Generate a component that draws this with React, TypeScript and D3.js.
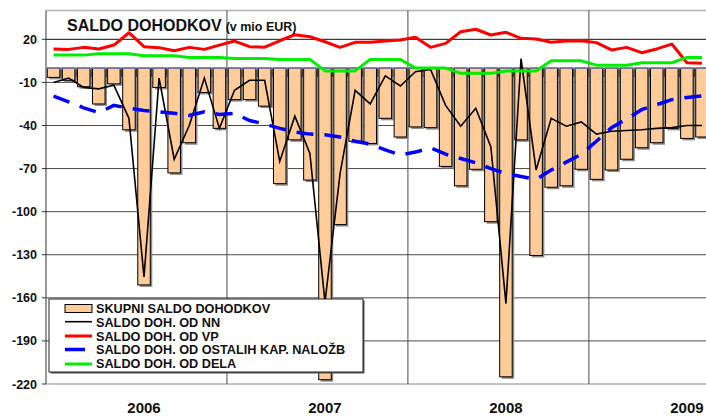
import React from "react";
import * as d3 from "d3";

const years = ["2006", "2007", "2008", "2009"];
const months = years.flatMap((y) =>
  ["01", "02", "03", "04", "05", "06", "07", "08", "09", "10", "11", "12"].map((m) => `${y}-${m}`)
).slice(0, 44);

const skupni = [
  -6.5, -8.5, -13, -25, -11, -43, -151, -13.5, -73, -52, -17, -42,
  -22, -22, -26.5, -80.5, -50, -78, -217, -109, -51, -52.5, -35, -48,
  -41, -41.5, -68.5, -82, -70.5, -107, -215, -50, -130.5, -83, -82, -70.5,
  -77.5, -71, -63.5, -55.5, -52, -42, -49, -48,
];
const odNN = [
  -10, -7, -13.5, -14.5, -12, -35, -145.5, -7, -63.5, -40, -7, -42,
  -15.5, -8.5, -8.5, -65, -33.5, -59.5, -163, -73.5, -15.5, -25, -5.5, -12.5,
  -2.6, -1, -26, -40.5, -28, -55, -164, 6.5, -71, -35, -40.5, -37.5,
  -46, -44, -43.5, -43, -42, -41.5, -40, -40,
];
const odVP = [
  13.3, 13, 14.4, 13.3, 16, 24.6, 14.9, 14.2, 12.1, 14.4, 13, 16,
  18.8, 14.9, 14.5, 19, 23.2, 21.8, 18.3, 14.4, 17.9, 17.9, 18.8, 19.5,
  21.4, 14.4, 17.2, 25.3, 27, 23, 24.9, 20.7, 20.2, 17.9, 18.8, 19,
  17.7, 12.6, 14.4, 10.7, 13.3, 16.7, 3.7, 3.3,
];
const odOstalih = [
  -19.5, -23.5, -27.7, -31, -26, -28, -29.5, -30.5, -31.5, -33, -30.5, -32.3,
  -31.6, -36.5, -39, -42, -44.5, -46, -46.5, -48, -51, -53, -57, -60.5,
  -58.5, -55.5, -60, -63, -66, -70, -73.5, -75.5, -77.5, -71, -65.5, -60,
  -51, -41.5, -35.5, -29, -25.5, -22, -20.5, -19.5,
];
const odDela = [
  9, 9, 9, 10, 10, 10, 8.6, 8.6, 8.6, 7.4, 7.4, 7.4,
  6.7, 6.7, 6.7, 6, 6, 6, -2, -2, -2, 6, 6, 6,
  0, 0, 0, -3.7, -3.7, -3.7, -2, -2, -2, 5, 5, 5,
  2, 2, 2, 3.7, 3.7, 3.7, 7.4, 7.4,
];
const yTicks = [20, -10, -40, -70, -100, -130, -160, -190, -220];
const legendLabels = [
  "SKUPNI SALDO DOHODKOV",
  "SALDO DOH. OD NN",
  "SALDO DOH. OD VP",
  "SALDO DOH. OD OSTALIH KAP. NALOŽB",
  "SALDO DOH. OD DELA",
];

const FONT = "'Liberation Sans', Arial, sans-serif";

export default function App() {
  const W = 706;
  const H = 417;
  const left = 46;
  const step = 15.08;
  const right = left + months.length * step;
  const top = 10.6;
  const bottom = 384;

  const x = d3
    .scaleBand<string>()
    .domain(months)
    .range([left, right])
    .paddingInner(0.17)
    .paddingOuter(0.085);
  const y = d3.scaleLinear().domain([-220, 40]).range([bottom, top]);
  const cx = (i: number) => (x(months[i]) as number) + x.bandwidth() / 2;
  const slotLeft = (i: number) => left + i * step;

  const line = (vals: number[]) =>
    d3
      .line<number>()
      .x((_, i) => cx(i))
      .y((v) => y(v))(vals) as string;

  const y0 = y(0);

  const legendX = 49;
  const legendY = 299;
  const legendW = 314;
  const legendH = 73;
  const rowY = [308.5, 322, 336, 349.5, 363.5];

  return (
    <svg
      width={W}
      height={H}
      style={{ position: "absolute", left: 0, top: 0, background: "#fff" }}
      fontFamily={FONT}
    >
      <rect x={0} y={0} width={W} height={H} fill="#fff" />
      {/* top border */}
      <line x1={left} x2={W} y1={top} y2={top} stroke="#b0b0b0" strokeWidth={1.5} />
      {/* horizontal gridlines */}
      {yTicks.map((t) => (
        <g key={t}>
          <line
            x1={left}
            x2={W}
            y1={y(t)}
            y2={y(t)}
            stroke={t === 20 ? "#111" : t === -220 ? "#888" : "#4a4a4a"}
            strokeWidth={1}
          />
          <line x1={left - 4} x2={left} y1={y(t)} y2={y(t)} stroke="#333" />
          <text
            x={37}
            y={y(t)}
            dy="0.36em"
            textAnchor="end"
            fontSize={12.5}
            fontWeight="bold"
            fill="#111"
          >
            {t}
          </text>
        </g>
      ))}
      {/* year separators */}
      {[12, 24, 36].map((i) => (
        <line
          key={i}
          x1={slotLeft(i)}
          x2={slotLeft(i)}
          y1={top}
          y2={bottom}
          stroke="#4a4a4a"
          strokeWidth={1}
        />
      ))}
      {/* left axis */}
      <line x1={left} x2={left} y1={top} y2={bottom} stroke="#333" strokeWidth={1} />

      {/* bar shadows */}
      {skupni.map((v, i) => (
        <rect
          key={"s" + i}
          x={(x(months[i]) as number) + 2}
          y={y0 + 2}
          width={x.bandwidth()}
          height={y(v) - y0}
          fill="#8a8a8a"
        />
      ))}
      {/* bars */}
      {skupni.map((v, i) => (
        <rect
          key={"b" + i}
          x={x(months[i]) as number}
          y={y0}
          width={x.bandwidth()}
          height={y(v) - y0}
          fill="#FFCC99"
          stroke="#000"
          strokeWidth={1}
        />
      ))}
      {/* category axis at zero */}
      <line x1={left} x2={W} y1={y0} y2={y0} stroke="#8080a8" strokeWidth={1.2} />
      {d3.range(1, months.length).map((i) => (
        <line
          key={"t" + i}
          x1={slotLeft(i)}
          x2={slotLeft(i)}
          y1={y0}
          y2={y0 + 9}
          stroke="#333"
          strokeWidth={1}
        />
      ))}

      {/* lines */}
      <path d={line(odNN)} fill="none" stroke="#000" strokeWidth={1.6} />
      <path d={line(odVP)} fill="none" stroke="#ff0000" strokeWidth={3} strokeLinejoin="round" />
      <path
        d={line(odOstalih)}
        fill="none"
        stroke="#0000ff"
        strokeWidth={3.5}
        strokeDasharray="17 11"
      />
      <path d={line(odDela)} fill="none" stroke="#00ee00" strokeWidth={3} strokeLinejoin="round" />

      {/* year labels */}
      {years.map((yr, k) => (
        <text
          key={yr}
          x={cx(k * 12 + 6)}
          y={413}
          textAnchor="middle"
          fontSize={15}
          fontWeight="bold"
          fill="#111"
        >
          {yr}
        </text>
      ))}

      {/* title */}
      <text x={67} y={31.3} fontWeight="bold" fill="#111">
        <tspan fontSize={16}>SALDO DOHODKOV</tspan>
        <tspan fontSize={12.5} dx={4}>(v mio EUR)</tspan>
      </text>

      {/* legend */}
      <rect x={legendX + 1.5} y={legendY + 1.5} width={legendW} height={legendH} fill="#555" />
      <rect
        x={legendX}
        y={legendY}
        width={legendW}
        height={legendH}
        fill="#fff"
        stroke="#222"
        strokeWidth={1}
      />
      <rect x={65} y={304.5} width={27} height={8} fill="#FFCC99" stroke="#000" />
      <line x1={65} x2={92} y1={321.7} y2={321.7} stroke="#000" strokeWidth={1.6} />
      <line x1={65} x2={92} y1={336} y2={336} stroke="#ff0000" strokeWidth={3} />
      <line x1={65} x2={85} y1={349.5} y2={349.5} stroke="#0000ff" strokeWidth={3.5} />
      <line x1={65} x2={92} y1={364} y2={364} stroke="#00ee00" strokeWidth={3} />
      {legendLabels.map((l, i) => (
        <text
          key={l}
          x={96}
          y={rowY[i]}
          dy="0.36em"
          fontSize={12.7}
          fontWeight="bold"
          fill="#111"
        >
          {l}
        </text>
      ))}
    </svg>
  );
}
